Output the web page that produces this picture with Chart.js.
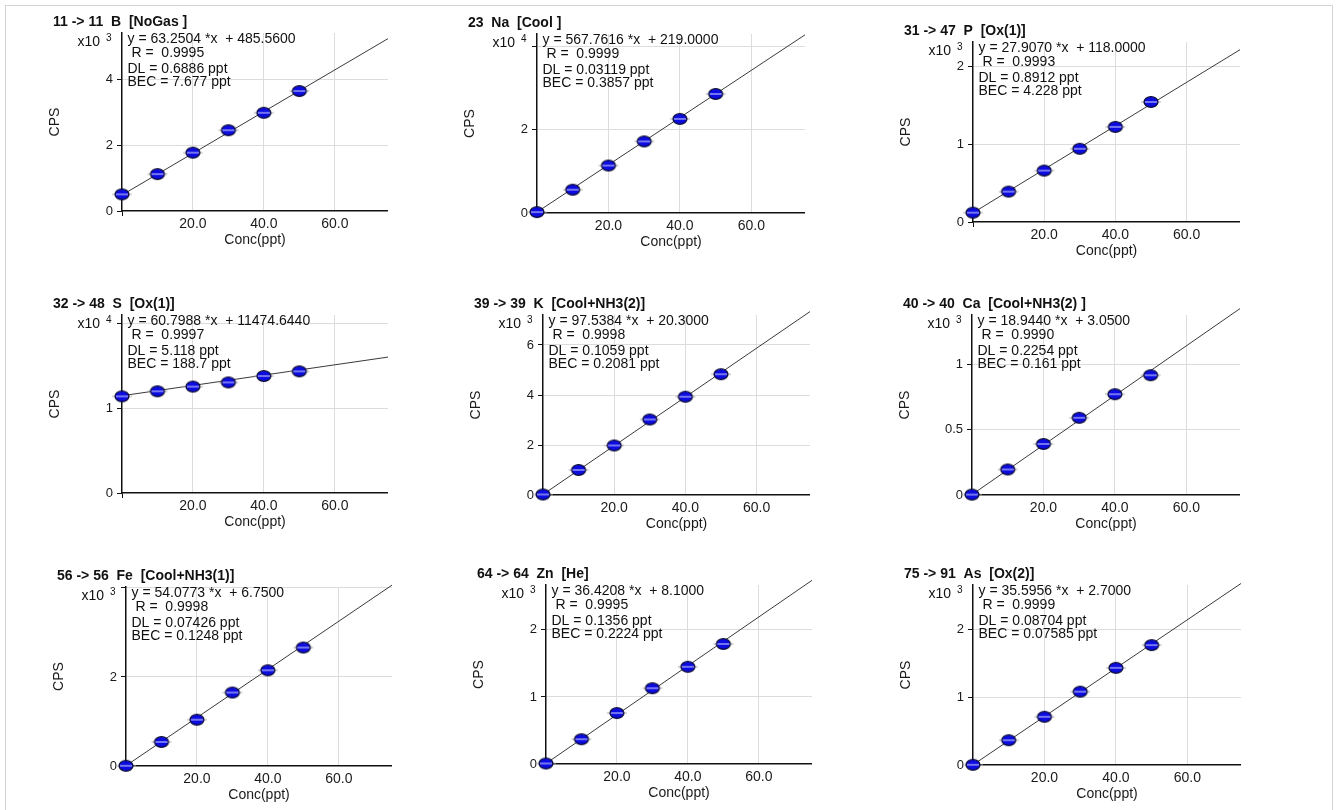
<!DOCTYPE html>
<html>
<head>
<meta charset="utf-8">
<title>Calibration curves</title>
<script src="https://cdn.jsdelivr.net/npm/chart.js"></script>
<style>
  body { margin: 0; background: #fff; }
  .frame {
    position: absolute; left: 5px; top: 5px; width: 1328px; height: 830px;
    border: 1px solid #d4d4d4; box-sizing: border-box;
  }
  .panel { position: absolute; }
</style>
</head>
<body>
<div class="frame"></div>
<div id="panels"></div>
<script>
// ---- data ----
const titles = [
  '11 -> 11  B  [NoGas ]', '23  Na  [Cool ]', '31 -> 47  P  [Ox(1)]',
  '32 -> 48  S  [Ox(1)]', '39 -> 39  K  [Cool+NH3(2)]', '40 -> 40  Ca  [Cool+NH3(2) ]',
  '56 -> 56  Fe  [Cool+NH3(1)]', '64 -> 64  Zn  [He]', '75 -> 91  As  [Ox(2)]'
];
const conc = [0, 10, 20, 30, 40, 50];

const cpsB  = [505, 1120, 1770, 2450, 2980, 3640];
const cpsNa = [220, 5600, 11400, 17200, 22600, 28600];
const cpsP  = [120, 390, 660, 940, 1220, 1540];
const cpsS  = [11400, 12000, 12550, 13050, 13800, 14350];
const cpsK  = [20, 1000, 1980, 3020, 3930, 4830];
const cpsCa = [3, 195, 390, 590, 770, 915];
const cpsFe = [5, 540, 1040, 1650, 2150, 2660];
const cpsZn = [8, 370, 760, 1130, 1450, 1790];
const cpsAs = [3, 365, 710, 1080, 1430, 1765];
const cpsSeries = [cpsB, cpsNa, cpsP, cpsS, cpsK, cpsCa, cpsFe, cpsZn, cpsAs];

const slopes     = [63.2504, 567.7616, 27.9070, 60.7988, 97.5384, 18.9440, 54.0773, 36.4208, 35.5956];
const intercepts = [485.56, 219.0, 118.0, 11474.644, 20.3, 3.05, 6.75, 8.1, 2.7];
const rValues    = ['0.9995', '0.9999', '0.9993', '0.9997', '0.9998', '0.9990', '0.9998', '0.9995', '0.9999'];
const dlValues   = ['0.6886', '0.03119', '0.8912', '5.118', '0.1059', '0.2254', '0.07426', '0.1356', '0.08704'];
const becValues  = ['7.677', '0.3857', '4.228', '188.7', '0.2081', '0.161', '0.1248', '0.2224', '0.07585'];

const exponents   = [3, 4, 3, 4, 3, 3, 3, 3, 3];
const yMax        = [5400, 43000, 2310, 21000, 7200, 1375, 4020, 2670, 2650];
const yTicks      = [[0, 2000, 4000], [0, 20000, 40000], [0, 1000, 2000],
                     [0, 10000, 20000], [0, 2000, 4000, 6000], [0, 500, 1000],
                     [0, 2000, 4000], [0, 1000, 2000], [0, 1000, 2000]];
const yTickLabels = [['0', '2', '4'], ['0', '2', ''], ['0', '1', '2'],
                     ['0', '1', ''], ['0', '2', '4', '6'], ['0', '0.5', '1'],
                     ['0', '2', ''], ['0', '1', '2'], ['0', '1', '2']];
const xMax = 75;
const xTicks = [0, 20, 40, 60];
const xTickLabels = ['', '20.0', '40.0', '60.0'];

// plot area of each panel on the page: left, top, right, bottom
const boxes = [
  [122, 33, 388, 211], [537, 34, 805, 213], [973, 42, 1240, 222],
  [122, 315, 388, 493], [543, 315, 810, 495], [972, 315, 1240, 495],
  [126, 587, 392, 766], [546, 585, 812, 764], [973, 585, 1241, 765]
];

const FONT = '"Liberation Sans", Arial, sans-serif';
Chart.defaults.font.family = FONT;
Chart.defaults.color = '#1a1a1a';

// blue standard marker with its little horizontal bar
function makeDot() {
  const c = document.createElement('canvas');
  c.width = 22; c.height = 14;
  const g = c.getContext('2d');
  g.strokeStyle = '#b0b0b0'; g.lineWidth = 1;
  g.beginPath(); g.moveTo(1, 7); g.lineTo(21, 7); g.stroke();
  g.beginPath(); g.ellipse(11, 7, 7, 5.3, 0, 0, Math.PI * 2);
  g.fillStyle = '#0c0ce0'; g.fill();
  g.lineWidth = 1.2; g.strokeStyle = '#0a0a30'; g.stroke();
  g.lineWidth = 1; g.strokeStyle = '#dcdcff';
  g.beginPath(); g.moveTo(5, 7); g.lineTo(17, 7); g.stroke();
  return c;
}
const dot = makeDot();

// title, exponent and the fit statistics
const panelText = {
  id: 'panelText',
  afterDraw(chart, args, o) {
    const {ctx, chartArea: a} = chart;
    ctx.save();
    ctx.fillStyle = '#111';
    ctx.textAlign = 'left';
    ctx.textBaseline = 'middle';
    ctx.font = 'bold 14px ' + FONT;
    ctx.fillText(o.title, a.left - 69, a.top - 11);

    ctx.textBaseline = 'alphabetic';
    ctx.font = '14px ' + FONT;
    ctx.textAlign = 'right';
    ctx.fillText('x10', a.left - 22, a.top + 12.5);
    ctx.textAlign = 'left';
    ctx.font = '10px ' + FONT;
    ctx.fillText(String(o.exp), a.left - 16, a.top + 7.5);

    ctx.font = '14px ' + FONT;
    ctx.textBaseline = 'middle';
    const offs = [6, 20, 35.8, 49.5];
    o.lines.forEach((t, k) => ctx.fillText(t, a.left + 5.5, a.top + offs[k]));
    ctx.restore();
  }
};

const holder = document.getElementById('panels');

boxes.forEach((b, i) => {
  const [L, T, R, B] = b;
  const left = L - 75, top = T - 30;
  const w = R - left, h = B - top + 42;

  const div = document.createElement('div');
  div.className = 'panel';
  div.style.left = left + 'px';
  div.style.top = top + 'px';
  const cv = document.createElement('canvas');
  cv.width = w; cv.height = h;
  cv.style.width = w + 'px'; cv.style.height = h + 'px';
  div.appendChild(cv);
  holder.appendChild(div);

  const m = slopes[i], c0 = intercepts[i];
  const lines = [
    'y = ' + m.toFixed(4) + ' *x  + ' + c0.toFixed(4),
    ' R =  ' + rValues[i],
    'DL = ' + dlValues[i] + ' ppt',
    'BEC = ' + becValues[i] + ' ppt'
  ];

  new Chart(cv.getContext('2d'), {
    type: 'scatter',
    data: {
      datasets: [
        {
          data: conc.map((x, k) => ({x: x, y: cpsSeries[i][k]})),
          pointStyle: dot,
          pointRadius: 7,
          clip: false,
          order: 1
        },
        {
          data: [{x: 0, y: c0}, {x: xMax, y: m * xMax + c0}],
          showLine: true,
          borderColor: '#3a3a3a',
          borderWidth: 1,
          pointRadius: 0,
          clip: false,
          order: 2
        }
      ]
    },
    options: {
      responsive: false,
      animation: false,
      layout: {autoPadding: false, padding: {top: 30, left: 0, right: 0, bottom: 0}},
      plugins: {
        legend: {display: false},
        tooltip: {enabled: false},
        panelText: {title: titles[i], exp: exponents[i], lines: lines}
      },
      scales: {
        x: {
          type: 'linear', min: 0, max: xMax,
          afterBuildTicks: s => { s.ticks = xTicks.map(v => ({value: v})); },
          afterFit: s => { s.height = 42; },
          ticks: {
            font: {size: 14}, padding: 0, maxRotation: 0,
            callback: (v, k) => xTickLabels[k]
          },
          grid: {
            color: ctx => ctx.tick && ctx.tick.value === 0 ? 'rgba(0,0,0,0)' : '#dcdcdc',
            tickColor: ctx => ctx.tick && ctx.tick.value === 0 ? '#111' : 'rgba(0,0,0,0)',
            tickLength: 5
          },
          border: {color: '#111', width: 1.5},
          title: {display: true, text: 'Conc(ppt)', font: {size: 14}, padding: {top: 0, bottom: 4}}
        },
        y: {
          type: 'linear', min: 0, max: yMax[i],
          afterBuildTicks: s => { s.ticks = yTicks[i].map(v => ({value: v})); },
          afterFit: s => { s.width = 75; },
          ticks: {
            font: {size: 13}, padding: 4,
            callback: (v, k) => yTickLabels[i][k]
          },
          grid: {
            color: ctx => ctx.tick && ctx.tick.value === 0 ? 'rgba(0,0,0,0)' : '#dcdcdc',
            tickColor: '#111',
            tickLength: 5
          },
          border: {color: '#111', width: 1.5},
          title: {display: true, text: 'CPS', font: {size: 14}, padding: {top: 0, bottom: 0}}
        }
      }
    },
    plugins: [panelText]
  });
});
</script>
</body>
</html>
